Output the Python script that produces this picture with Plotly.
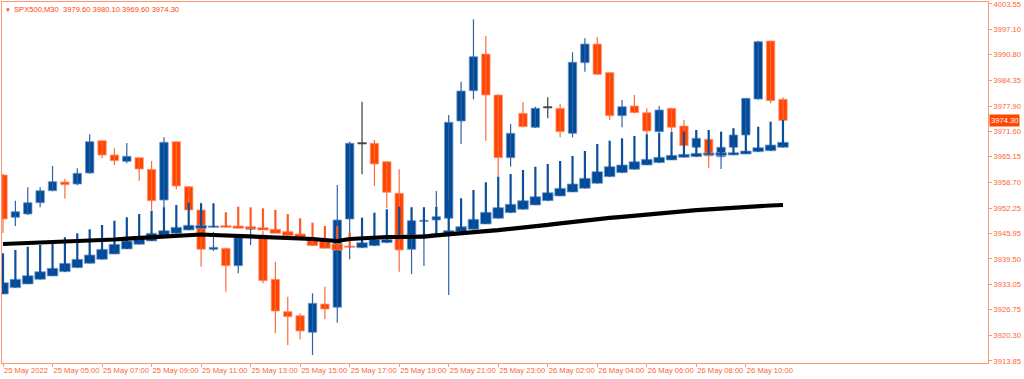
import plotly.graph_objects as go

# ---------------- data ----------------
bar_index = list(range(64))

main_open = [3960.58, 3949.95, 3950.78, 3953.62, 3956.63, 3958.82, 3958.32, 3961.08, 3969.20, 3965.60,
             3964.02, 3964.93, 3962.01, 3954.30, 3968.95, 3957.64, 3951.79, 3941.91, 3942.16, 3937.79,
             3946.89, 3944.82, 3934.37, 3926.24, 3925.23, 3921.06, 3928.17, 3927.34, 3949.52, 3968.55,
             3968.55, 3963.92, 3955.98, 3941.91, 3949.00, 3949.27, 3949.70, 3974.15, 3981.76, 3990.98,
             3980.68, 3964.93, 3976.08, 3972.56, 3977.59, 3977.34, 3971.06, 3988.80, 3993.49, 3986.30,
             3975.48, 3977.92, 3976.23, 3971.46, 3977.34, 3972.89, 3967.54, 3969.55, 3965.18, 3967.54,
             3970.63, 3979.68, 3994.25, 3979.60]
main_high = [3960.80, 3954.12, 3957.49, 3957.49, 3962.84, 3959.65, 3962.26, 3970.81, 3969.30, 3967.29,
             3968.62, 3965.00, 3964.10, 3970.05, 3969.00, 3957.80, 3953.62, 3946.30, 3942.30, 3945.50,
             3947.76, 3946.50, 3938.80, 3929.99, 3925.83, 3930.86, 3932.51, 3958.07, 3968.95, 3979.00,
             3969.37, 3964.10, 3962.01, 3952.46, 3952.46, 3956.56, 3975.66, 3984.02, 3999.70, 3995.50,
             3980.90, 3973.39, 3978.92, 3977.74, 3980.10, 3978.42, 3991.41, 3994.93, 3995.18, 3986.40,
             3979.42, 3980.68, 3977.34, 3977.92, 3977.50, 3974.40, 3971.89, 3971.89, 3971.46, 3972.31,
             3979.90, 3994.32, 3994.30, 3980.10]
main_low = [3946.00, 3947.77, 3950.50, 3952.46, 3956.50, 3954.62, 3958.00, 3960.90, 3964.78, 3963.09,
            3963.52, 3959.15, 3951.79, 3951.96, 3956.99, 3951.30, 3937.54, 3941.49, 3931.26, 3935.88,
            3942.99, 3933.37, 3920.80, 3917.87, 3919.30, 3915.36, 3924.40, 3923.47, 3939.40, 3960.76,
            3957.82, 3952.21, 3936.28, 3935.70, 3937.72, 3948.77, 3930.43, 3968.37, 3979.60, 3969.20,
            3960.15, 3962.67, 3972.56, 3972.40, 3974.83, 3970.05, 3970.05, 3986.53, 3985.70, 3974.40,
            3972.56, 3976.10, 3970.81, 3971.30, 3971.46, 3967.80, 3967.40, 3962.26, 3962.09, 3966.86,
            3966.43, 3979.50, 3978.59, 3969.60]
main_close = [3949.52, 3951.36, 3953.62, 3956.63, 3958.90, 3958.14, 3961.01, 3968.95, 3965.60, 3964.17,
              3965.28, 3962.09, 3954.12, 3968.80, 3957.82, 3951.79, 3941.91, 3942.41, 3937.79, 3944.82,
              3947.26, 3934.02, 3926.41, 3924.98, 3921.38, 3928.34, 3926.91, 3949.27, 3968.55, 3968.55,
              3963.34, 3956.23, 3941.74, 3949.10, 3949.10, 3950.10, 3973.82, 3981.69, 3990.30, 3980.68,
              3964.93, 3971.06, 3972.71, 3977.34, 3977.59, 3971.46, 3988.90, 3993.49, 3985.88, 3975.48,
              3977.74, 3976.23, 3971.64, 3976.91, 3972.56, 3967.94, 3969.80, 3965.35, 3967.54, 3970.63,
              3979.85, 3994.07, 3979.25, 3974.30]

ind_open = [3930.68, 3932.26, 3933.19, 3934.37, 3935.20, 3936.28, 3937.29, 3938.39, 3939.40, 3940.73,
            3941.99, 3943.17, 3944.00, 3944.93, 3945.93, 3946.76, 3947.19, 3947.44, 3947.84, 3947.77,
            3947.59, 3947.34, 3946.94, 3946.34, 3945.76, 3944.68, 3944.25, 3943.24, 3942.74, 3942.31,
            3942.82, 3943.57, 3944.88, 3944.88, 3945.00, 3945.25, 3945.76, 3946.34, 3946.94, 3948.27,
            3949.70, 3951.11, 3951.96, 3953.04, 3954.12, 3955.30, 3956.31, 3957.24, 3958.49, 3960.15,
            3961.16, 3962.01, 3963.09, 3963.67, 3964.35, 3965.03, 3965.18, 3965.60, 3965.53, 3965.60,
            3965.86, 3966.43, 3966.68, 3967.54]
ind_high = [3940.91, 3941.74, 3942.57, 3942.99, 3944.25, 3944.93, 3945.93, 3946.94, 3948.02, 3949.10,
            3949.95, 3950.78, 3951.61, 3952.46, 3953.04, 3953.62, 3953.47, 3953.47, 3951.21, 3952.62,
            3952.46, 3952.21, 3951.79, 3950.78, 3949.70, 3948.60, 3947.76, 3947.76, 3946.00, 3949.85,
            3951.11, 3951.96, 3952.62, 3952.46, 3952.46, 3952.54, 3954.00, 3954.73, 3956.81, 3958.75,
            3960.15, 3960.83, 3961.84, 3962.67, 3963.34, 3964.10, 3965.35, 3966.61, 3968.37, 3969.20,
            3969.80, 3970.38, 3970.81, 3971.21, 3971.39, 3971.46, 3971.89, 3971.89, 3971.46, 3972.31,
            3970.63, 3972.71, 3973.97, 3974.40]
ind_low = [3930.68, 3932.26, 3933.19, 3934.37, 3935.20, 3936.28, 3937.29, 3938.39, 3939.40, 3940.73,
           3941.99, 3943.17, 3944.00, 3944.93, 3945.93, 3946.76, 3947.19, 3947.44, 3947.44, 3947.19,
           3947.01, 3946.76, 3945.93, 3945.33, 3944.68, 3942.82, 3942.16, 3941.74, 3942.41, 3942.31,
           3942.82, 3943.57, 3944.88, 3944.88, 3945.00, 3945.25, 3945.76, 3946.34, 3946.94, 3948.27,
           3949.70, 3951.11, 3951.96, 3953.04, 3954.12, 3955.30, 3956.31, 3957.24, 3958.49, 3960.15,
           3961.16, 3962.01, 3963.09, 3963.67, 3964.35, 3965.03, 3965.18, 3965.60, 3965.53, 3965.60,
           3965.86, 3966.43, 3966.68, 3967.54]
ind_close = [3933.52, 3934.37, 3935.28, 3936.28, 3937.14, 3938.39, 3939.40, 3940.48, 3941.91, 3943.17,
             3944.00, 3945.08, 3945.93, 3946.59, 3947.44, 3947.94, 3947.94, 3947.77, 3947.44, 3947.19,
             3947.01, 3946.76, 3945.93, 3945.33, 3944.68, 3942.82, 3942.16, 3941.74, 3942.41, 3943.57,
             3944.42, 3944.42, 3945.50, 3945.50, 3945.60, 3945.88, 3946.59, 3947.59, 3949.45, 3951.21,
             3952.37, 3953.22, 3954.12, 3955.13, 3956.13, 3957.24, 3958.32, 3959.75, 3961.41, 3962.67,
             3963.09, 3963.92, 3964.52, 3965.03, 3965.53, 3965.78, 3966.03, 3966.10, 3966.18, 3966.18,
             3966.61, 3967.44, 3968.12, 3968.80]

ma_values = [3943.24, 3943.34, 3943.44, 3943.54, 3943.64, 3943.77, 3943.89, 3944.02, 3944.15, 3944.37,
             3944.60, 3944.80, 3945.03, 3945.18, 3945.33, 3945.48, 3945.63, 3945.50, 3945.40, 3945.30,
             3945.20, 3945.10, 3944.98, 3944.88, 3944.75, 3944.50, 3944.25, 3944.00, 3944.50, 3944.70,
             3944.90, 3945.00, 3945.00, 3945.00, 3945.10, 3945.40, 3945.73, 3945.98, 3946.23, 3946.48,
             3946.73, 3947.00, 3947.36, 3947.71, 3948.04, 3948.44, 3948.82, 3949.22, 3949.50, 3949.80,
             3950.08, 3950.38, 3950.71, 3951.03, 3951.33, 3951.56, 3951.76, 3951.96, 3952.19, 3952.39,
             3952.57, 3952.77, 3952.92, 3953.04]

x_tick_index = [0, 4, 8, 12, 16, 20, 24, 28, 32, 36, 40, 44, 48, 52, 56, 60]
x_tick_text = ["25 May 2022", "25 May 05:00", "25 May 07:00", "25 May 09:00", "25 May 11:00",
               "25 May 13:00", "25 May 15:00", "25 May 17:00", "25 May 19:00", "25 May 21:00",
               "25 May 23:00", "26 May 02:00", "26 May 04:00", "26 May 06:00", "26 May 08:00",
               "26 May 10:00"]
y_tick_values = [4003.55, 3997.10, 3990.80, 3984.35, 3977.90, 3971.60, 3965.15, 3958.70,
                 3952.25, 3945.95, 3939.50, 3933.05, 3926.75, 3920.30, 3913.85]

symbol_text = "SPX500,M30  3979.60 3980.10 3969.60 3974.30"
last_price = 3974.30

# ---------------- styles ----------------
BLUE = "#004a98"
RED = "#ff4500"
AXIS = "#ff9675"
LABEL = "#ff6233"
FONT = "Liberation Sans"
FS = 7.6

main_colors = {
    "up": dict(fill=BLUE, edge="#6f95c6", wick="#2f62a6"),
    "down": dict(fill=RED, edge="#ff9a7a", wick="#ff6a3d"),
    "doji": dict(fill="#3c3c3c", edge="#3c3c3c", wick="#3c3c3c"),
}
ind_colors = {
    "up": dict(fill=BLUE, edge="#7fa1cc", wick="#0d4f9c"),
    "down": dict(fill=RED, edge="#ffa184", wick="#ff5a25"),
    "doji": dict(fill=BLUE, edge=BLUE, wick=BLUE),
}

fig = go.Figure()


def add_candles(o, h, l, c, body_width, wick_width, colors):
    groups = {"up": [], "down": [], "doji": []}
    for i in range(len(o)):
        d = c[i] - o[i]
        k = "doji" if abs(d) < 0.05 else ("up" if d > 0 else "down")
        groups[k].append(i)
    for k, idxs in groups.items():
        if not idxs:
            continue
        wx, wy = [], []
        for i in idxs:
            wx += [bar_index[i], bar_index[i], None]
            wy += [l[i], h[i], None]
        fig.add_trace(go.Scatter(x=wx, y=wy, mode="lines",
                                 line=dict(color=colors[k]["wick"], width=wick_width),
                                 hoverinfo="skip", showlegend=False))
    for k, idxs in groups.items():
        if not idxs:
            continue
        xs, base, hgt = [], [], []
        for i in idxs:
            xs.append(bar_index[i])
            if k == "doji":
                base.append(o[i] - 0.13)
                hgt.append(0.26)
            else:
                lo = min(o[i], c[i])
                size = abs(c[i] - o[i])
                if size < 0.3:
                    lo -= (0.3 - size) / 2
                    size = 0.3
                base.append(lo)
                hgt.append(size)
        fig.add_trace(go.Bar(x=xs, y=hgt, base=base, width=body_width,
                             marker=dict(color=colors[k]["fill"],
                                         line=dict(color=colors[k]["edge"], width=0.8)),
                             hoverinfo="skip", showlegend=False))


add_candles(main_open, main_high, main_low, main_close, 0.68, 1.2, main_colors)
add_candles(ind_open, ind_high, ind_low, ind_close, 0.86, 2.2, ind_colors)

fig.add_trace(go.Scatter(x=bar_index, y=ma_values, mode="lines",
                         line=dict(color="black", width=4.2),
                         hoverinfo="skip", showlegend=False))

fig.update_layout(
    width=1024, height=379,
    margin=dict(l=2, r=36, t=2, b=16, autoexpand=False),
    paper_bgcolor="white", plot_bgcolor="white",
    barmode="overlay", bargap=0,
    showlegend=False, hovermode=False,
    font=dict(family=FONT, size=FS, color=LABEL),
)
fig.update_xaxes(
    range=[-0.081, 79.56], showgrid=False, zeroline=False,
    showline=True, linecolor=AXIS, linewidth=1, mirror=True,
    ticks="outside", ticklen=3, tickcolor=AXIS,
    tickvals=x_tick_index, ticktext=x_tick_text, tickangle=0,
    ticklabelposition="outside right", automargin=False,
    ticklabeloverflow="allow",
    tickfont=dict(family=FONT, size=FS, color=LABEL),
)
fig.update_yaxes(
    range=[3913.34, 4004.05], side="right", showgrid=False, zeroline=False,
    showline=True, linecolor=AXIS, linewidth=1, mirror=True,
    ticks="outside", ticklen=3, tickcolor=AXIS, automargin=False,
    ticklabeloverflow="allow",
    tickvals=y_tick_values, ticktext=["%.2f" % v for v in y_tick_values],
    tickfont=dict(family=FONT, size=FS, color=LABEL),
)

fig.add_annotation(x=1, xref="paper", xanchor="left", xshift=1,
                   y=last_price, yref="y", yanchor="middle",
                   text="%.2f" % last_price, showarrow=False,
                   bgcolor=RED, borderpad=1,
                   font=dict(family=FONT, size=FS, color="white"))
fig.add_annotation(x=0, xref="paper", xanchor="left", xshift=1,
                   y=1, yref="paper", yanchor="top", yshift=-3,
                   text="▼", showarrow=False,
                   font=dict(family=FONT, size=6, color=RED))
fig.add_annotation(x=0, xref="paper", xanchor="left", xshift=10,
                   y=1, yref="paper", yanchor="top", yshift=-1,
                   text=symbol_text, showarrow=False,
                   font=dict(family=FONT, size=FS, color=RED))

fig.write_html("out.html",
               config={"displayModeBar": False, "staticPlot": True},
               post_script="document.body.style.margin='0';document.body.style.overflow='hidden';")
